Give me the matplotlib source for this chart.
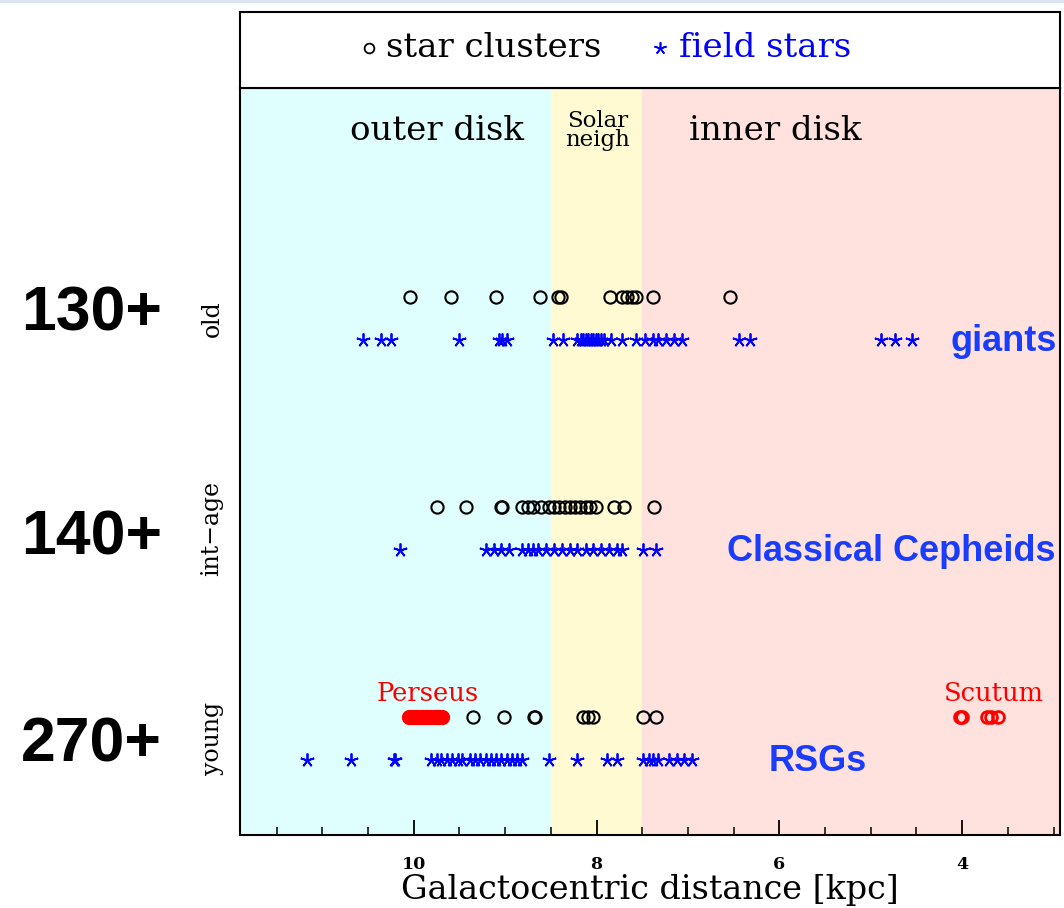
import matplotlib
matplotlib.use("Agg")
import matplotlib.pyplot as plt
from matplotlib.patches import Rectangle
from matplotlib.ticker import MultipleLocator
from matplotlib.transforms import blended_transform_factory

# galactocentric distances [kpc] read per age group
old_clusters = [10.04, 9.59, 9.10, 8.62, 8.42, 8.39, 7.85, 7.72, 7.67, 7.61, 7.57, 7.38, 6.54]
old_field = [10.55, 10.36, 10.25, 9.50, 9.07, 9.03, 8.98, 8.48, 8.37, 8.21, 8.17, 8.15, 8.12,
             8.09, 8.06, 8.04, 8.01, 7.98, 7.95, 7.92, 7.84, 7.72, 7.57, 7.47, 7.38, 7.33,
             7.24, 7.15, 7.07, 6.44, 6.32, 4.89, 4.73, 4.55]

int_clusters = [9.75, 9.43, 9.05, 9.03, 8.81, 8.75, 8.69, 8.61, 8.52, 8.46, 8.41, 8.35, 8.29,
                8.23, 8.18, 8.12, 8.07, 8.01, 7.81, 7.70, 7.37]
int_field = [10.15, 9.21, 9.12, 9.04, 8.96, 8.81, 8.75, 8.69, 8.64, 8.55, 8.46, 8.38, 8.29,
             8.21, 8.12, 8.04, 7.95, 7.86, 7.78, 7.72, 7.49, 7.35]

young_clusters = [9.35, 9.01, 8.68, 8.67, 8.15, 8.09, 8.04, 7.49, 7.35]
perseus = [10.05, 10.02, 9.99, 9.96, 9.93, 9.90, 9.87, 9.84, 9.81, 9.78, 9.75, 9.72, 9.69]
scutum = [4.02, 4.00, 3.73, 3.68, 3.61]
young_field = [11.17, 10.69, 10.22, 10.20, 9.81, 9.75, 9.70, 9.64, 9.58, 9.52, 9.47, 9.38,
               9.33, 9.27, 9.21, 9.15, 9.10, 9.04, 8.98, 8.92, 8.87, 8.81, 8.52, 8.21, 7.89,
               7.78, 7.49, 7.43, 7.38, 7.33, 7.21, 7.12, 7.04, 6.96]

# zone boundaries [kpc]
outer_edge = 8.5
inner_edge = 7.5

age_names = ["old", "int\u2212age", "young"]
counts = ["130+", "140+", "270+"]
tracers = ["giants", "Classical Cepheids", "RSGs"]

# vertical placement of the rows
row_clusters = [7.20, 4.39, 1.58]
row_field = [6.63, 3.82, 1.01]
count_y = [6.975, 3.976, 1.205]

XMIN, XMAX = 11.9, 2.93
serif = "DejaVu Serif"
blue_txt = "#1a3cff"

fig = plt.figure(figsize=(10.64, 9.08), dpi=100)
ax = fig.add_axes([240 / 1064, 73 / 908, 820 / 1064, 747 / 908])
axt = fig.add_axes([240 / 1064, 820 / 908, 820 / 1064, 76 / 908])

# thin strip along the top edge
fig.patches.append(Rectangle((0, 905 / 908), 1, 3 / 908, transform=fig.transFigure,
                             facecolor="#dce4f4", edgecolor="none"))

ax.set_xlim(XMIN, XMAX)
ax.set_ylim(0, 10)
ax.axvspan(XMIN, outer_edge, color="#dfffff", zorder=0)
ax.axvspan(outer_edge, inner_edge, color="#fffad2", zorder=0)
ax.axvspan(inner_edge, XMAX, color="#ffe2de", zorder=0)

circ = dict(ls="none", marker="o", ms=8.8, mfc="none", mew=1.5)
star = dict(ls="none", marker=(5, 2, 0), ms=10, mew=1.3, color="#0000ff")

groups = [(old_clusters, old_field), (int_clusters, int_field), (young_clusters, young_field)]
for (cl, fs), yc, yf in zip(groups, row_clusters, row_field):
    ax.plot(cl, [yc] * len(cl), mec="black", **circ)
    ax.plot(fs, [yf] * len(fs), **star)

ax.plot(perseus, [row_clusters[2]] * len(perseus), ls="none", marker="o", ms=8.5,
        mfc="none", mec="red", mew=2.5)
ax.plot(scutum, [row_clusters[2]] * len(scutum), ls="none", marker="o", ms=8.5,
        mfc="none", mec="red", mew=2)

ax.text(9.85, 1.90, "Perseus", color="red", family=serif, fontsize=18.5, ha="center", va="center")
ax.text(3.65, 1.90, "Scutum", color="red", family=serif, fontsize=18.5, ha="center", va="center")

# zone names
ax.text(9.74, 9.42, "outer disk", family=serif, fontsize=24.5, ha="center", va="center")
ax.text(7.99, 9.43, "Solar\nneigh", family=serif, fontsize=16.5, ha="center", va="center",
        multialignment="center", linespacing=0.8)
ax.text(6.05, 9.42, "inner disk", family=serif, fontsize=24.5, ha="center", va="center")

# tracer names on the right
ax.text(2.96, row_field[0] - 0.03, tracers[0], color=blue_txt, fontsize=26, weight="bold",
        family="Liberation Sans", ha="right", va="center")
ax.text(2.98, row_field[1] - 0.03, tracers[1], color=blue_txt, fontsize=26, weight="bold",
        family="Liberation Sans", ha="right", va="center")
ax.text(5.58, row_field[2] - 0.03, tracers[2], color=blue_txt, fontsize=26, weight="bold",
        family="Liberation Sans", ha="center", va="center")

# age labels and sample sizes on the left
trans = blended_transform_factory(ax.transAxes, ax.transData)
for name, cnt, yc, yf, yn in zip(age_names, counts, row_clusters, row_field, count_y):
    ax.text(-0.034, (yc + yf) / 2, name, transform=trans, family=serif, fontsize=17,
            rotation=90, ha="center", va="center")
    ax.text(-0.181, yn, cnt, transform=trans, family="Liberation Sans",
            fontsize=45, weight="bold", ha="center", va="center")

ax.xaxis.set_major_locator(MultipleLocator(2))
ax.xaxis.set_minor_locator(MultipleLocator(0.5))
ax.tick_params(axis="x", which="major", direction="in", length=11, width=1.3, pad=15)
ax.tick_params(axis="x", which="minor", direction="in", length=6, width=1.1)
ax.tick_params(axis="y", left=False, labelleft=False)
for lab in ax.get_xticklabels():
    lab.set_family(serif)
    lab.set_fontsize(12.5)
    lab.set_weight("bold")
ax.set_xlabel("Galactocentric distance [kpc]", family=serif, fontsize=24, labelpad=1)
for sp in ax.spines.values():
    sp.set_linewidth(1.5)

# key panel
axt.set_xticks([])
axt.set_yticks([])
axt.set_xlim(0, 1)
axt.set_ylim(0, 1)
for sp in axt.spines.values():
    sp.set_linewidth(1.5)
axt.plot([0.157], [0.53], ls="none", marker="o", ms=7, mfc="none", mec="black", mew=1.3)
axt.text(0.178, 0.53, "star clusters", family=serif, fontsize=24.5, ha="left", va="center")
axt.plot([0.512], [0.53], ls="none", marker=(5, 2, 0), ms=9, mew=1.2, color="#0000ff")
axt.text(0.535, 0.53, "field stars", color="#0000ff", family=serif, fontsize=24.5,
         ha="left", va="center")

fig.savefig("out.png", dpi=100)
